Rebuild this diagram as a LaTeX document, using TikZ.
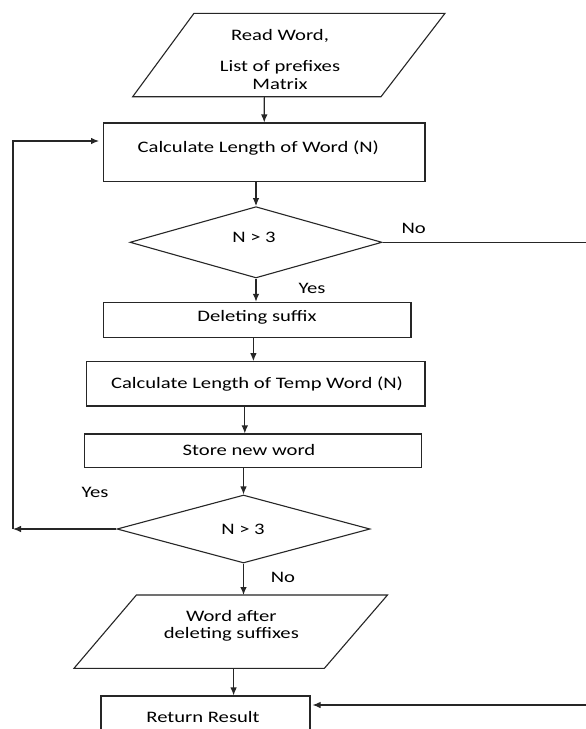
\documentclass[tikz,border=0pt]{standalone}
\usepackage{fontspec}
\setmainfont{Carlito}[FakeStretch=1.29]
\usetikzlibrary{shapes.geometric,arrows.meta}
\begin{document}
\begin{tikzpicture}[x=1pt,y=-1pt,
  ln/.style={line width=1.1pt, draw=black!85},
  arr/.style={ln, -{Latex[length=8pt,width=6.5pt]}},
  box/.style={ln, rectangle, inner sep=0pt},
  dia/.style={ln, diamond, inner sep=0pt},
  txt/.style={font=\fontsize{16}{17.6}\selectfont, text=black, inner sep=0pt, anchor=base},
  mtxt/.style={font=\fontsize{16}{17.6}\selectfont, text=black, inner sep=0pt, align=center}]
\useasboundingbox (0,0) rectangle (586,729);
\clip (0,0) rectangle (586,729);
\fill[white] (0,0) rectangle (586,729);

% input parallelogram
\draw[ln] (194,13.3) -- (445,13.3) -- (381,96.7) -- (132.7,96.7) -- cycle;
\node[mtxt] (p1) at (280,59.5) {Read Word,\\[13.3pt]List of prefixes\\Matrix};
\coordinate (p1bot) at (264.3,96.7);

% boxes
\node[box, minimum width=321.5, minimum height=58.7] (r1) at (264.25,152.35) {};
\node[txt] (t1) at (258.3,152.7) {Calculate Length of Word (N)};

\node[dia, minimum width=252, minimum height=71.3] (d1) at (256,242.3) {};
\node[txt] (t2) at (254,242) {N > 3};
\node[txt] (no1) at (413.7,233) {No};
\node[txt] (yes1) at (312,293) {Yes};

\node[box, minimum width=307.5, minimum height=35.4] (r2) at (257.25,320) {};
\node[txt] (t3) at (257,321.7) {Deleting suffix};

\node[box, minimum width=338.7, minimum height=44.3] (r3) at (255.65,383.85) {};
\node[txt] (t4) at (257,388.3) {Calculate Length of Temp Word (N)};

\node[box, minimum width=336.7, minimum height=33.7] (r4) at (253.15,450.85) {};
\node[txt] (t5) at (249,455) {Store new word};

\node[dia, minimum width=253, minimum height=68] (d2) at (243.5,529) {};
\node[txt] (t6) at (243,534) {N > 3};
\node[txt] (yes2) at (95,497) {Yes};
\node[txt] (no2) at (283,582) {No};

% output parallelogram
\draw[ln] (136.4,595) -- (387.5,595) -- (324.4,668.3) -- (74,668.3) -- cycle;
\node[mtxt] (p2) at (231.3,625.8) {Word after\\deleting suffixes};
\coordinate (p2top) at (243.5,595);
\coordinate (p2bot) at (233.6,668.3);

\node[box, minimum width=209, minimum height=68] (r5) at (205.5,730) {};
\node[txt] (t7) at (203,722.7) {Return Result};

% connectors
\draw[arr] (p1bot) -- (r1.north);
\draw[arr] (r1.south -| d1.north) -- (d1.north);
\draw[arr] (d1.south) -- (d1.south |- r2.north);
\draw[arr] (253.4,0 |- r2.south) -- (253.4,0 |- r3.north);
\draw[arr] (244.8,0 |- r3.south) -- (244.8,0 |- r4.north);
\draw[arr] (r4.south -| d2.north) -- (d2.north);
\draw[arr] (d2.south) -- (p2top);
\draw[arr] (p2bot) -- (p2bot |- r5.north);

\coordinate (L1) at (13,529);
\coordinate (L2) at (13,141);
\coordinate (E1) at (99,141);
\draw[arr] (d2.west) -- (L1);
\draw[arr] (L1) -- (L2) -- (E1);

\coordinate (R1) at (586,242.3);
\draw[ln] (d1.east) -- (R1);
\coordinate (R2) at (586,705);
\draw[arr, shorten >=2pt] (R2) -- (R2 -| r5.east);
\end{tikzpicture}
\end{document}
